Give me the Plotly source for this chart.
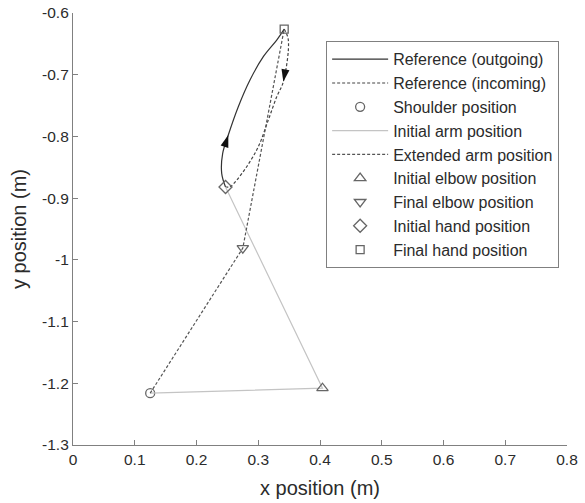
import plotly.graph_objects as go

# ---- data ----
shoulder = [0.125, -1.216]
init_elbow = [0.404, -1.208]
final_elbow = [0.275, -0.981]
init_hand = [0.247, -0.882]
final_hand = [0.342, -0.626]

out_x = [0.247, 0.2408, 0.2424, 0.2515, 0.2677, 0.2866, 0.3082, 0.3299, 0.342]
out_y = [-0.882, -0.8598, -0.8274, -0.7977, -0.7519, -0.7086, -0.6708, -0.6438, -0.626]

in_x = [0.342, 0.3487, 0.3406, 0.3299, 0.3163, 0.3001, 0.2813, 0.2651, 0.2543, 0.247]
in_y = [-0.626, -0.6438, -0.7113, -0.7357, -0.7734, -0.8167, -0.8491, -0.8707, -0.8815, -0.882]

arrow_x = [0.2515, 0.3406]
arrow_y = [-0.7977, -0.7113]
arrow_angle = [18, 190]

x_ticks = [0, 0.1, 0.2, 0.3, 0.4, 0.5, 0.6, 0.7, 0.8]
x_ticktext = ["0", "0.1", "0.2", "0.3", "0.4", "0.5", "0.6", "0.7", "0.8"]
y_ticks = [-0.6, -0.7, -0.8, -0.9, -1.0, -1.1, -1.2, -1.3]
y_ticktext = ["-0.6", "-0.7", "-0.8", "-0.9", "-1", "-1.1", "-1.2", "-1.3"]

FONT = "Liberation Sans, Arial, sans-serif"
MK_COL = "#666666"
TXT = "#2b2b2b"

fig = go.Figure()

fig.add_trace(go.Scatter(x=out_x, y=out_y, mode="lines", name="Reference (outgoing)",
                         line=dict(color="#333333", width=1.2, shape="spline", smoothing=1.0)))
fig.add_trace(go.Scatter(x=in_x, y=in_y, mode="lines", name="Reference (incoming)",
                         line=dict(color="#444444", width=1.2, dash="3px,2px", shape="spline", smoothing=1.0)))
fig.add_trace(go.Scatter(x=[shoulder[0]], y=[shoulder[1]], mode="markers", name="Shoulder position",
                         marker=dict(symbol="circle-open", size=9, color=MK_COL, line=dict(width=1.3))))
fig.add_trace(go.Scatter(x=[shoulder[0], init_elbow[0], init_hand[0]],
                         y=[shoulder[1], init_elbow[1], init_hand[1]],
                         mode="lines", name="Initial arm position",
                         line=dict(color="#c4c4c4", width=1.2)))
fig.add_trace(go.Scatter(x=[shoulder[0], final_elbow[0], final_hand[0]],
                         y=[shoulder[1], final_elbow[1], final_hand[1]],
                         mode="lines", name="Extended arm position",
                         line=dict(color="#555555", width=1.2, dash="3px,2px")))
fig.add_trace(go.Scatter(x=[init_elbow[0]], y=[init_elbow[1]], mode="markers", name="Initial elbow position",
                         marker=dict(symbol="triangle-up-open", size=10, color=MK_COL, line=dict(width=1.3))))
fig.add_trace(go.Scatter(x=[final_elbow[0]], y=[final_elbow[1]], mode="markers", name="Final elbow position",
                         marker=dict(symbol="triangle-down-open", size=10, color=MK_COL, line=dict(width=1.3))))
fig.add_trace(go.Scatter(x=[init_hand[0]], y=[init_hand[1]], mode="markers", name="Initial hand position",
                         marker=dict(symbol="diamond-open", size=10, color=MK_COL, line=dict(width=1.3))))
fig.add_trace(go.Scatter(x=[final_hand[0]], y=[final_hand[1]], mode="markers", name="Final hand position",
                         marker=dict(symbol="square-open", size=8, color=MK_COL, line=dict(width=1.3))))
fig.add_trace(go.Scatter(x=arrow_x, y=arrow_y, mode="markers", showlegend=False,
                         marker=dict(symbol="arrow", size=13, angle=arrow_angle, color="#111111",
                                     line=dict(width=0))))

axis_common = dict(showgrid=False, zeroline=False, showline=True, linecolor="#808080", linewidth=1.2,
                   ticks="inside", ticklen=5, tickcolor="#808080", mirror=False, automargin=False,
                   tickfont=dict(family=FONT, size=15.5, color=TXT))

fig.update_layout(
    width=585, height=503,
    margin=dict(l=73, r=18, t=13, b=58),
    paper_bgcolor="white", plot_bgcolor="white",
    font=dict(family=FONT, color=TXT),
    xaxis=dict(range=[0, 0.8], tickvals=x_ticks, ticktext=x_ticktext,
               title=dict(text="x position (m)", font=dict(family=FONT, size=20, color=TXT), standoff=14),
               **axis_common),
    yaxis=dict(range=[-1.3, -0.6], tickvals=y_ticks, ticktext=y_ticktext,
               title=dict(text="y position (m)", font=dict(family=FONT, size=20, color=TXT), standoff=10),
               **axis_common),
    legend=dict(x=0.512, y=0.935, xanchor="left", yanchor="top",
                bgcolor="white", bordercolor="#808080", borderwidth=1.2,
                font=dict(family=FONT, size=16, color=TXT),
                tracegroupgap=0, itemwidth=56),
    showlegend=True,
)

fig.write_html("out.html")
